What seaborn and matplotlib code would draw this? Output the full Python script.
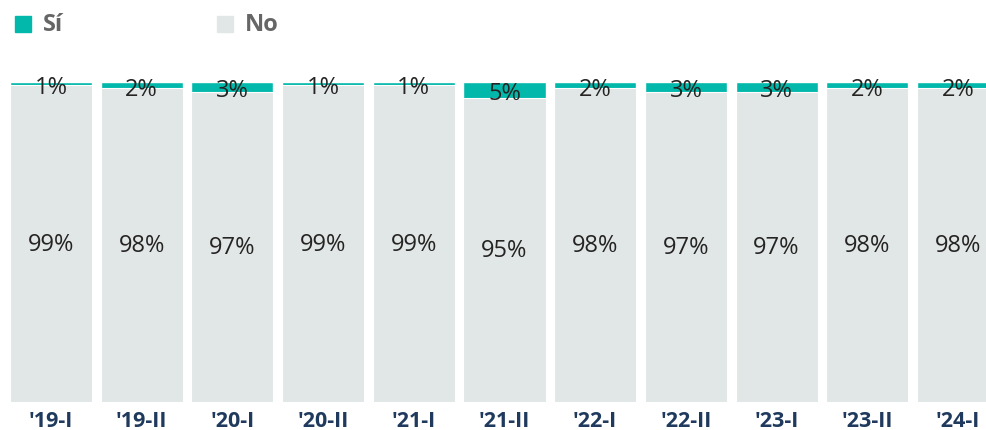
import numpy as np
import pandas as pd
import seaborn as sns
import matplotlib.pyplot as plt
from matplotlib.patches import Rectangle

periods = ["'19-I", "'19-II", "'20-I", "'20-II", "'21-I", "'21-II",
           "'22-I", "'22-II", "'23-I", "'23-II", "'24-I"]
si = [1, 2, 3, 1, 1, 5, 2, 3, 3, 2, 2]
no = [99, 98, 97, 99, 99, 95, 98, 97, 97, 98, 98]

TEAL = "#01B8AA"
GREY = "#E1E6E6"
W, H = 987, 431

sns.set_theme(style="white")
plt.rcParams['font.family'] = ['Open Sans', 'DejaVu Sans']

df = pd.DataFrame({"periodo": periods, "si": si, "no": no})
df["total"] = df["si"] + df["no"]

fig = plt.figure(figsize=(W / 100, H / 100), dpi=100)
ax = fig.add_axes([0, (H - 403) / H, 1, 320 / H])

sns.barplot(data=df, x="periodo", y="total", color=TEAL, width=0.905,
            saturation=1, ax=ax)
sns.barplot(data=df, x="periodo", y="no", color=GREY, width=0.905,
            saturation=1, edgecolor="white", linewidth=0.8, ax=ax)

for i, row in df.iterrows():
    ax.annotate(f"{row['si']}%", (i, row["no"] + row["si"] / 2),
                xytext=(0, -2.5), textcoords="offset points", ha="center",
                va="center", fontsize=17, color="#252423")
    ax.text(i, row["no"] / 2, f"{row['no']}%", ha="center", va="center",
            fontsize=17, color="#252423")

ax.set_xlabel("")
ax.set_ylabel("")
ax.set_yticks([])
ax.set_xticks(range(len(periods)))
ax.set_xticklabels(periods, fontsize=15.5, fontweight="bold", color="#1F3A5C")
ax.tick_params(axis="x", which="major", length=0, pad=6)
ax.set_xticks(np.arange(-0.5, len(periods), 1), minor=True)
ax.tick_params(axis="x", which="minor", length=3, color="#E0E0E0", width=1)
# limits after the ticks so the minor ticks do not widen the view
ax.set_xlim(-51 / 90.7, (W - 51) / 90.7)
ax.set_ylim(0, 100)
sns.despine(ax=ax, left=True, bottom=True)

# legend
for x0, lab, col in [(15, "Sí", TEAL), (217, "No", GREY)]:
    fig.add_artist(Rectangle((x0 / W, (H - 33) / H), 16 / W, 16 / H,
                             transform=fig.transFigure, color=col))
    fig.text((x0 + 28) / W, (H - 25) / H, lab, fontsize=17, fontweight="bold",
             color="#666666", va="center", ha="left")

fig.savefig("out.png", dpi=100)
